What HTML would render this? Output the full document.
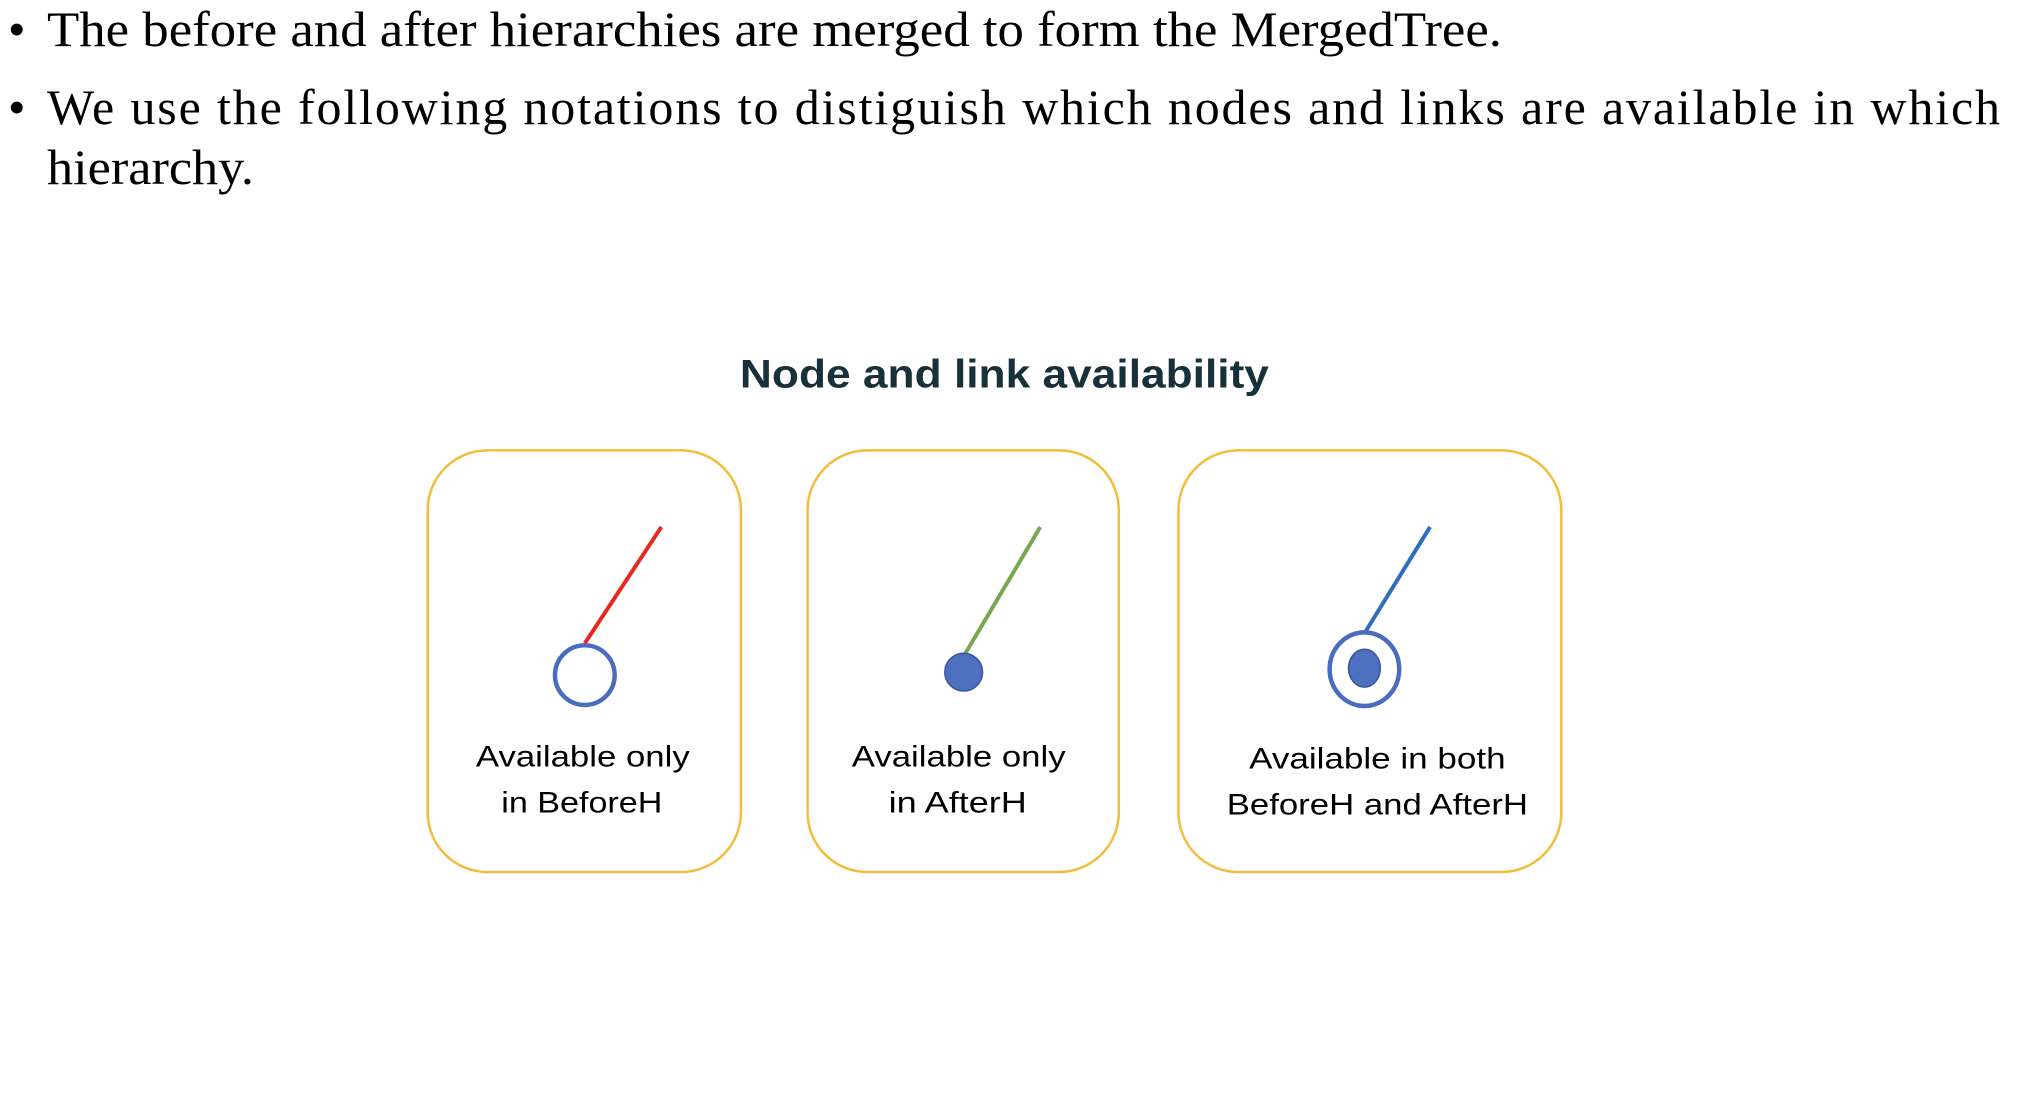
<!DOCTYPE html>
<html><head><meta charset="utf-8"><style>
html,body{margin:0;padding:0;background:#fff;width:2018px;height:1118px;overflow:hidden}
</style></head><body>
<svg width="2018" height="1118" viewBox="0 0 2018 1118" xmlns="http://www.w3.org/2000/svg">
<g font-family="'Liberation Serif', serif" font-size="50" fill="#000">
  <text x="8" y="46">•</text>
  <text x="47" y="46" textLength="1455" lengthAdjust="spacingAndGlyphs">The before and after hierarchies are merged to form the MergedTree.</text>
  <text x="8" y="124">•</text>
  <text x="47" y="124" textLength="1953" lengthAdjust="spacing">We use the following notations to distiguish which nodes and links are available in which</text>
  <text x="47" y="184" textLength="207" lengthAdjust="spacingAndGlyphs">hierarchy.</text>
</g>
<g transform="translate(427.7,450.4) scale(0.9944) translate(-429,-453)">
<text x="1009" y="390" text-anchor="middle" font-family="'Liberation Sans', sans-serif" font-weight="bold" font-size="40" fill="#17303a" textLength="532" lengthAdjust="spacingAndGlyphs">Node and link availability</text>

<g fill="none" stroke="#f2bd3c" stroke-width="2.5">
  <rect x="429" y="453" width="315" height="424" rx="60"/>
  <rect x="811" y="453" width="313" height="424" rx="60"/>
  <rect x="1184" y="453" width="385" height="424" rx="60"/>
</g>

<line x1="587" y1="647" x2="664" y2="530" stroke="#e5291f" stroke-width="4"/>
<circle cx="587" cy="679" r="30" fill="#fff" stroke="#4a6cc0" stroke-width="4.5"/>

<line x1="968" y1="660" x2="1045" y2="530" stroke="#76a94f" stroke-width="4"/>
<circle cx="968" cy="676" r="19" fill="#4f70c0" stroke="#3a5597" stroke-width="1.5"/>

<line x1="1371" y1="637" x2="1437" y2="530" stroke="#2f6dbf" stroke-width="4"/>
<ellipse cx="1371" cy="673" rx="35" ry="37" fill="#fff" stroke="#4a6cc0" stroke-width="4.5"/>
<ellipse cx="1371" cy="672" rx="16" ry="19" fill="#4f70c0" stroke="#3a5597" stroke-width="1.5"/>

<g font-family="'Liberation Sans', sans-serif" font-size="30" fill="#000" text-anchor="middle">
  <text x="585" y="771" textLength="215" lengthAdjust="spacingAndGlyphs">Available only</text>
  <text x="584" y="817" textLength="162" lengthAdjust="spacingAndGlyphs">in BeforeH</text>
  <text x="963" y="771" textLength="215" lengthAdjust="spacingAndGlyphs">Available only</text>
  <text x="962" y="817" textLength="139" lengthAdjust="spacingAndGlyphs">in AfterH</text>
  <text x="1384" y="773" textLength="258" lengthAdjust="spacingAndGlyphs">Available in both</text>
  <text x="1384" y="819" textLength="303" lengthAdjust="spacingAndGlyphs">BeforeH and AfterH</text>
</g>
</g>
</svg>
</body></html>
